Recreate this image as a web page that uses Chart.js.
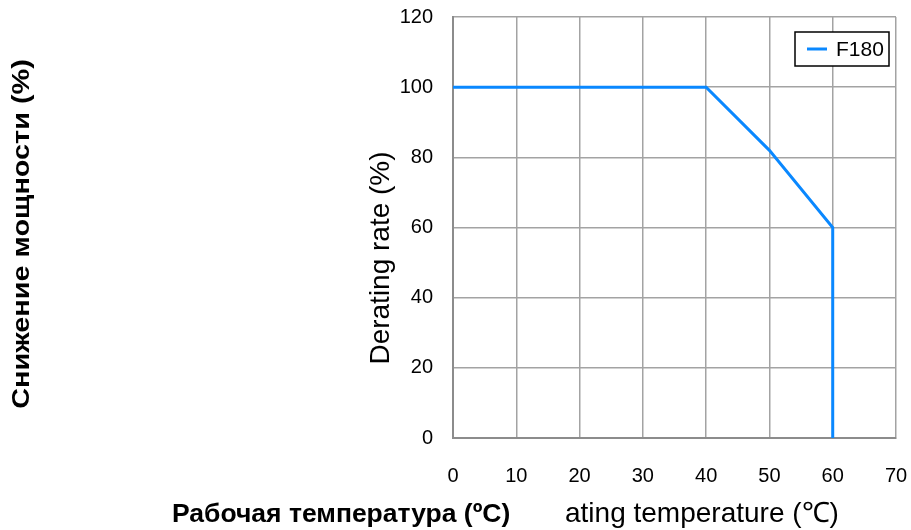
<!DOCTYPE html>
<html lang="ru">
<head>
<meta charset="utf-8" />
<script src="https://cdn.jsdelivr.net/npm/chart.js@4.4.1/dist/chart.umd.min.js"></script>
<title>F180 derating</title>
<style>
  html, body { margin: 0; padding: 0; background: #fff; }
  #wrap { width: 911px; height: 530px; }
</style>
</head>
<body>
<div id="wrap"><canvas id="grafico"></canvas></div>
<script>
// datos
const temperatura = [0, 40, 50, 60, 60];
const potencia = [100, 100, 82, 60, 0];
const serie = "F180";
const ticksX = [0, 10, 20, 30, 40, 50, 60, 70];
const ticksY = [0, 20, 40, 60, 80, 100, 120];

const fuente = "'Liberation Sans', Arial, sans-serif";
const azul = "#0a88ff";

// textos extra y leyenda dibujados a mano
const extras = {
  id: "extras",
  afterDraw(chart) {
    const ctx = chart.ctx;
    ctx.save();
    ctx.fillStyle = "#000";
    ctx.textBaseline = "middle";

    // titulo eje y
    ctx.save();
    ctx.translate(381, 258);
    ctx.rotate(-Math.PI / 2);
    ctx.textAlign = "center";
    ctx.font = "28px " + fuente;
    ctx.fillText("Derating rate (%)", 0, 0);
    ctx.restore();

    // titulo ruso izquierdo (un poco mas largo y delgado)
    ctx.save();
    ctx.translate(22, 234);
    ctx.rotate(-Math.PI / 2);
    ctx.scale(1.03, 0.88);
    ctx.textAlign = "center";
    ctx.font = "bold 28px " + fuente;
    ctx.fillText("Снижение мощности (%)", 0, 0);
    ctx.restore();

    // textos de abajo
    ctx.textAlign = "left";
    ctx.font = "bold 26.5px " + fuente;
    ctx.fillText("Рабочая температура (ºC)", 172, 515);
    ctx.font = "28px " + fuente;
    ctx.fillText("ating temperature (℃)", 565, 514);

    // leyenda
    const lx = 795, ly = 32, lw = 94, lh = 34;
    ctx.fillStyle = "#fff";
    ctx.fillRect(lx, ly, lw, lh);
    ctx.strokeStyle = "#000";
    ctx.lineWidth = 1.5;
    ctx.strokeRect(lx, ly, lw, lh);
    ctx.strokeStyle = azul;
    ctx.lineWidth = 3;
    ctx.beginPath();
    ctx.moveTo(807, ly + lh / 2);
    ctx.lineTo(827, ly + lh / 2);
    ctx.stroke();
    ctx.fillStyle = "#000";
    ctx.font = "21px " + fuente;
    ctx.fillText(serie, 836, ly + lh / 2 + 1);
    ctx.restore();
  }
};

new Chart(document.getElementById("grafico").getContext("2d"), {
  type: "line",
  data: {
    datasets: [{
      label: serie,
      data: temperatura.map((t, i) => ({ x: t, y: potencia[i] })),
      borderColor: azul,
      borderWidth: 3,
      pointRadius: 0,
      tension: 0,
      fill: false
    }]
  },
  options: {
    responsive: true,
    maintainAspectRatio: false,
    animation: false,
    layout: { padding: { top: 17, right: 15, left: 0, bottom: 0 } },
    plugins: { legend: { display: false }, tooltip: { enabled: false } },
    scales: {
      x: {
        type: "linear",
        min: 0, max: 70,
        afterBuildTicks: s => { s.ticks = ticksX.map(v => ({ value: v })); },
        afterFit: s => { s.height = 92; s.paddingLeft = 0; s.paddingRight = 0; },
        grid: { color: "#a3a3a3", lineWidth: 1.5, drawTicks: false },
        border: { color: "#8c8c8c", width: 2 },
        ticks: { color: "#000", font: { family: fuente, size: 20 }, padding: 26, maxRotation: 0 }
      },
      y: {
        min: 0, max: 120,
        afterBuildTicks: s => { s.ticks = ticksY.map(v => ({ value: v })); },
        afterFit: s => { s.width = 453; s.paddingTop = 0; s.paddingBottom = 0; },
        grid: { color: "#a3a3a3", lineWidth: 1.5, drawTicks: false },
        border: { color: "#8c8c8c", width: 2 },
        ticks: { color: "#000", font: { family: fuente, size: 20 }, padding: 20 }
      }
    }
  },
  plugins: [extras]
});
</script>
</body>
</html>
